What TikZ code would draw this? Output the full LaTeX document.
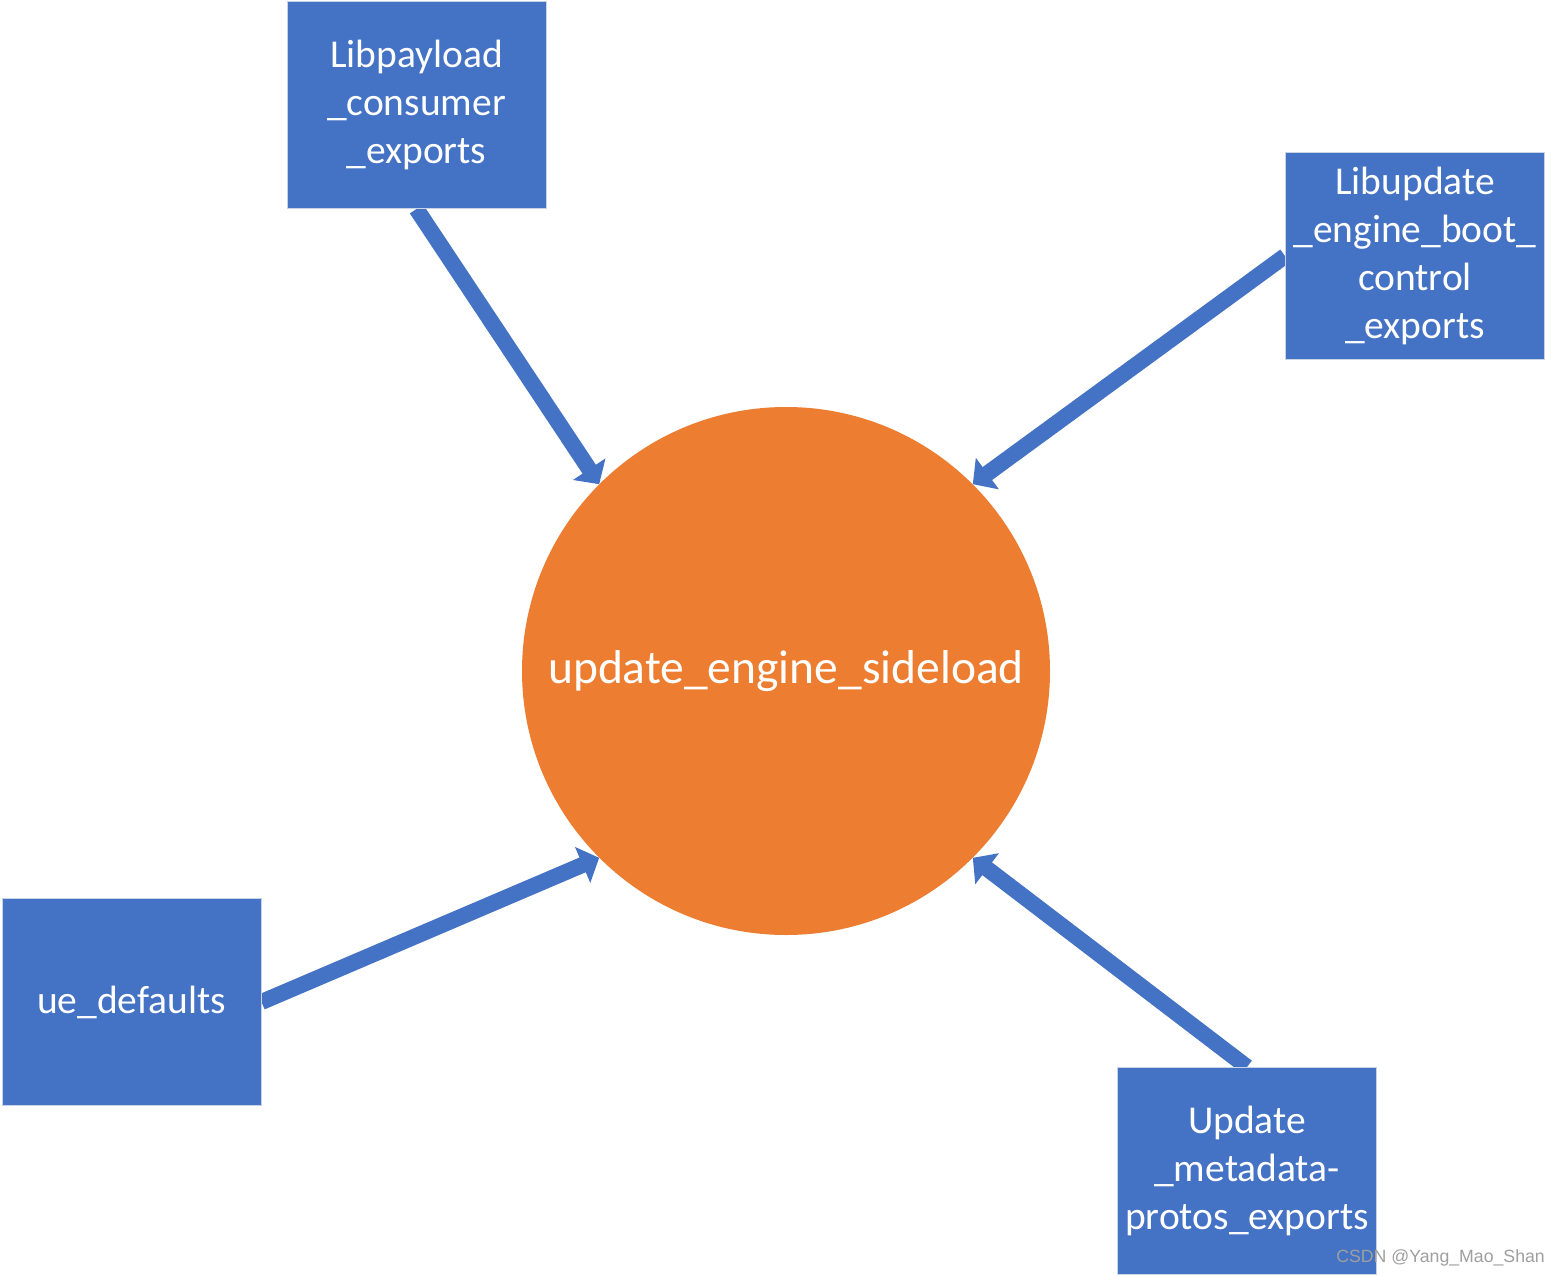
\documentclass[tikz,border=0pt]{standalone}
\usepackage{fontspec}
\setmainfont{Carlito}
\newfontfamily\wmfont{Liberation Sans}
\usetikzlibrary{arrows.meta,backgrounds}
\definecolor{boxblue}{HTML}{4472C4}
\definecolor{circorange}{HTML}{ED7D31}
\definecolor{boxedge}{HTML}{C9D3E6}
\tikzset{
  boxnode/.style={rectangle, fill=boxblue, draw=boxedge, line width=1pt,
    minimum width=259pt, minimum height=207pt, inner sep=0pt,
    text=white, align=center,
    font=\fontsize{39.5pt}{48pt}\selectfont},
  hub/.style={circle, fill=circorange, draw=none, minimum size=528pt, inner sep=0pt,
    text=white, font=\fontsize{47.5pt}{57pt}\selectfont},
  feed/.style={draw=boxblue, line width=16pt,
    -{Triangle[length=18pt,width=38pt]}},
  wmark/.style={text=gray!75, font=\wmfont\fontsize{17.7pt}{20pt}\selectfont, inner sep=0pt}
}
\begin{document}
\begin{tikzpicture}[x=1pt,y=-1pt]
\useasboundingbox (0,0) rectangle (1559,1276);
\node[hub] (c) at (786,671) {update\_engine\_sideload};
\node[boxnode] (b1) at (416.5,105) {Libpayload\\\_consumer\\\_exports};
\node[boxnode] (b2) at (1415,256) {Libupdate\\\_engine\_boot\_\\control\\\_exports};
\node[boxnode] (b3) at (131.5,1002) {ue\_defaults};
\node[boxnode] (b4) at (1247,1171) {Update\\\_metadata-\\protos\_exports};
\begin{scope}[on background layer]
\draw[feed] (b1.south) -- (c.135);
\draw[feed] (b2.west) -- (c.45);
\draw[feed] (b3.east) -- (c.225);
\draw[feed] (b4.north) -- (c.315);
\end{scope}
\node[wmark, anchor=base east] (wm) at (1545,1262) {CSDN @Yang\_Mao\_Shan};
\end{tikzpicture}
\end{document}
